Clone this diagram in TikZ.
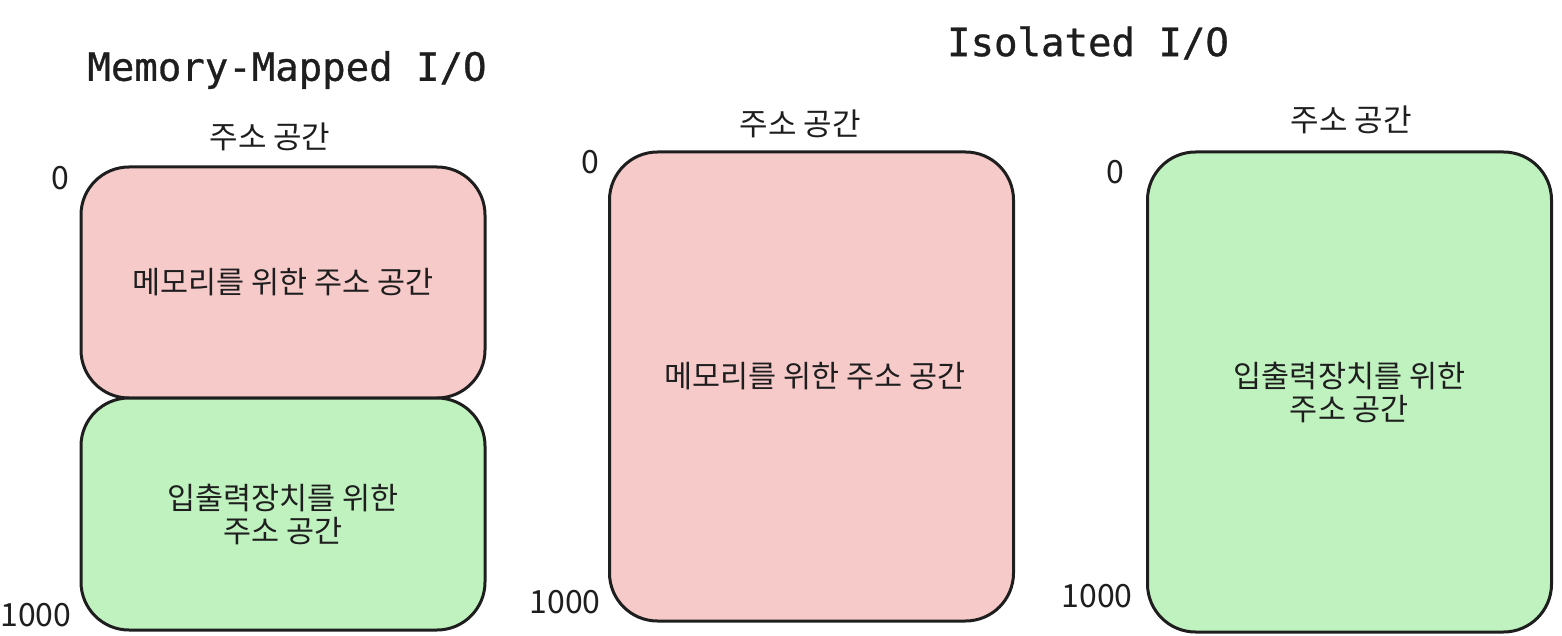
\documentclass[tikz,border=0pt]{standalone}
\usepackage{fontspec}
\setmainfont{Noto Sans CJK KR}
\newfontfamily\titlefont[FakeBold=0.8]{DejaVu Sans Mono}
\usepackage{tikz}

\definecolor{memred}{HTML}{F7CACA}
\definecolor{iogreen}{HTML}{C0F2C0}
\definecolor{inkline}{HTML}{1E1E1E}

\begin{document}
\begin{tikzpicture}[x=1pt,y=-1pt,
  spacebox/.style={draw=inkline,line width=3pt,rounded corners=48pt,align=center,text=inkline,
    font=\fontsize{30.5}{33}\selectfont,minimum width=404pt},
  addrlabel/.style={text=inkline,inner sep=0pt,font=\fontsize{31}{33}\selectfont},
  addrnum/.style={text=inkline,inner sep=0pt,font=\fontsize{32}{33}\selectfont},
  titlelabel/.style={text=inkline,inner sep=0pt,font=\titlefont\fontsize{39}{44}\selectfont}]
\useasboundingbox (0,0) rectangle (1562,636);

%Memory-Mapped side
\node[spacebox,fill=memred,minimum height=231pt] (mmmem) at (283,282.5) {메모리를 위한 주소 공간};
\node[spacebox,fill=iogreen,minimum height=232pt] (mmio) at (283,514) {입출력장치를 위한\\주소 공간};

%Isolated side
\node[spacebox,fill=memred,minimum height=469pt] (isomem) at (811.5,386.5) {};
\node[spacebox,draw=none,inner sep=0pt] (isomemtext) at (815,376) {메모리를 위한 주소 공간};
\node[spacebox,fill=iogreen,minimum height=480pt] (isoio) at (1349.5,392) {입출력장치를 위한\\주소 공간};

% Text Node
\node[titlelabel] (mmtitle) at (287,70) {Memory-Mapped I/O};
% Text Node
\node[titlelabel] (isotitle) at (1088,43) {Isolated I/O};

% Text Node
\node[addrlabel] (mmspace) at (270,137) {주소 공간};
\node[addrlabel] (isomemspace) at (800,124) {주소 공간};
\node[addrlabel] (isoiospace) at (1351,120) {주소 공간};

% Text Node
\node[addrnum] (mmzero) at (60,178) {0};
\node[addrnum] (mmend) at (36,615) {1000};
\node[addrnum] (isomemzero) at (590,162) {0};
\node[addrnum] (isomemend) at (565,602) {1000};
\node[addrnum] (isoiozero) at (1115,172) {0};
\node[addrnum] (isoioend) at (1097,596) {1000};

\end{tikzpicture}
\end{document}
